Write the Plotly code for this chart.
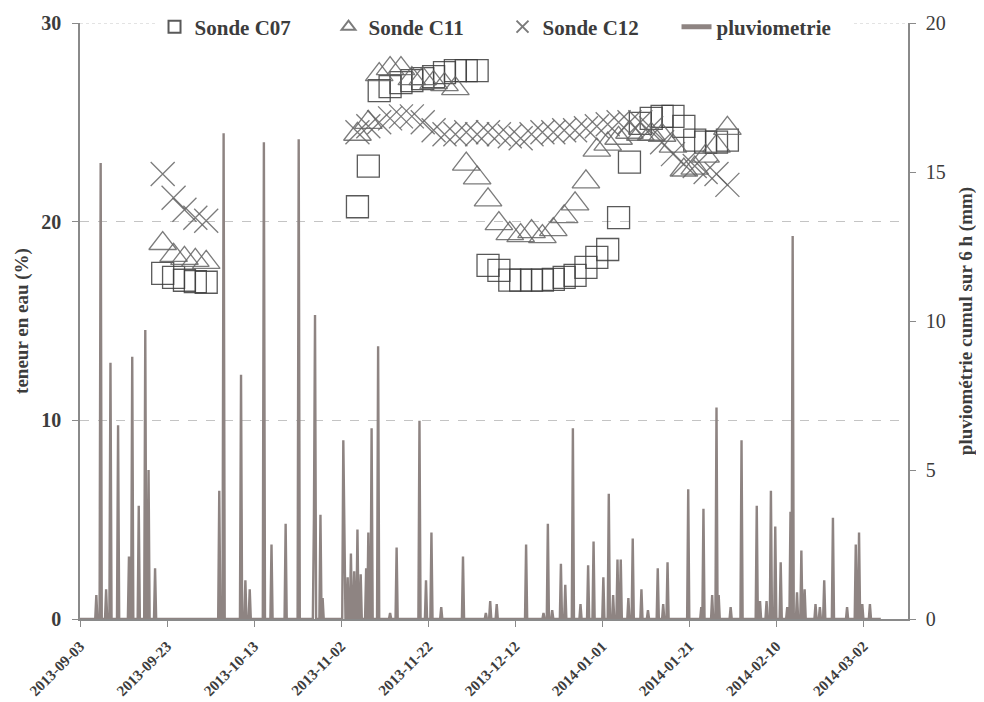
import pandas as pd
import plotly.graph_objects as go

# ---------------- data ----------------
# probe measurement schedule (every 60 h)
probe_dates_sep = pd.date_range('2013-09-22 00:00', periods=5, freq='60h')
probe_dates_nov = pd.date_range('2013-11-05 18:00', periods=35, freq='60h')

c07_sep = [17.4, 17.2, 17.05, 16.98, 16.95]
c11_sep = [18.9, 18.3, 18.15, 18.05, 17.95]
c12_sep = [22.4, 21.2, 20.6, 20.2, 20.05]

c07_nov = [20.75, 22.8, 26.6, 26.8, 27.0, 27.1, 27.2, 27.3, 27.5, 27.6, 27.6, 27.6,
           17.8, 17.55, 17.06, 17.06, 17.06, 17.06, 17.1, 17.2, 17.3, 17.7, 18.2, 18.6,
           20.2, 23.0, 24.95, 25.2, 25.3, 25.3, 24.8, 24.1, 24.0, 24.0, 24.1]
c11_nov = [24.4, 25.0, 27.4, 27.7, 27.7, 27.2, 27.2, 27.0, 26.9, 26.7, 22.9, 22.2,
           21.1, 19.9, 19.4, 19.3, 19.5, 19.25, 19.6, 20.25, 20.9, 22.0, 23.6, 23.9,
           24.2, 24.5, 24.4, 24.4, 24.35, 23.8, 22.6, 22.7, 23.3, 23.8, 24.7]
c12_nov = [24.5, 24.8, 25.0, 25.2, 25.3, 25.3, 25.0, 24.6, 24.4, 24.4, 24.5, 24.4,
           24.5, 24.4, 24.3, 24.2, 24.4, 24.5, 24.5, 24.6, 24.6, 24.7, 24.8, 24.9,
           25.0, 25.0, 25.0, 24.7, 24.0, 23.4, 22.9, 22.8, 22.5, 22.4, 21.85]

rain_times = [
    '2013-09-06 18:00', '2013-09-07 18:00', '2013-09-09 00:00', '2013-09-10 00:00',
    '2013-09-11 18:00', '2013-09-14 06:00', '2013-09-15 00:00', '2013-09-16 12:00',
    '2013-09-18 00:00', '2013-09-18 18:00', '2013-09-20 06:00', '2013-10-05 00:00',
    '2013-10-06 00:00', '2013-10-10 00:00', '2013-10-11 00:00', '2013-10-12 00:00',
    '2013-10-15 06:00', '2013-10-17 00:00', '2013-10-20 06:00', '2013-10-23 06:00',
    '2013-10-26 18:00', '2013-10-27 00:00', '2013-10-28 06:00', '2013-10-28 18:00',
    '2013-11-02 12:00', '2013-11-02 18:00', '2013-11-03 12:00', '2013-11-04 06:00',
    '2013-11-05 00:00', '2013-11-05 18:00', '2013-11-06 12:00', '2013-11-07 18:00',
    '2013-11-08 06:00', '2013-11-09 00:00', '2013-11-10 12:00', '2013-11-13 06:00',
    '2013-11-14 18:00', '2013-11-20 00:00', '2013-11-21 12:00', '2013-11-22 18:00',
    '2013-11-25 00:00', '2013-11-30 00:00', '2013-12-05 06:00', '2013-12-06 06:00',
    '2013-12-07 18:00', '2013-12-14 12:00', '2013-12-18 12:00', '2013-12-19 12:00',
    '2013-12-20 12:00', '2013-12-22 12:00', '2013-12-23 12:00', '2013-12-25 06:00',
    '2013-12-27 00:00', '2013-12-28 18:00', '2013-12-30 00:00', '2014-01-01 06:00',
    '2014-01-02 12:00', '2014-01-03 12:00', '2014-01-04 12:00', '2014-01-05 06:00',
    '2014-01-07 00:00', '2014-01-08 00:00', '2014-01-10 00:00', '2014-01-11 12:00',
    '2014-01-13 18:00', '2014-01-15 00:00', '2014-01-16 00:00', '2014-01-20 18:00',
    '2014-01-23 18:00', '2014-01-24 06:00', '2014-01-26 06:00', '2014-01-27 06:00',
    '2014-01-27 18:00', '2014-01-30 12:00', '2014-02-02 00:00', '2014-02-05 12:00',
    '2014-02-06 06:00', '2014-02-07 18:00', '2014-02-08 18:00', '2014-02-09 18:00',
    '2014-02-11 00:00', '2014-02-12 12:00', '2014-02-13 06:00', '2014-02-13 18:00',
    '2014-02-14 18:00', '2014-02-15 18:00', '2014-02-16 12:00', '2014-02-19 00:00',
    '2014-02-20 00:00', '2014-02-21 00:00', '2014-02-23 00:00', '2014-02-26 06:00',
    '2014-02-28 06:00', '2014-03-01 00:00', '2014-03-01 18:00', '2014-03-03 12:00',
]
rain_values = [
    0.8, 15.3, 1.0, 8.6,
    6.5, 2.1, 8.8, 3.8,
    9.7, 5.0, 1.7, 4.3,
    16.3, 8.2, 1.3, 1.0,
    16.0, 2.5, 3.2, 16.1,
    3.4, 10.2, 3.5, 0.7,
    6.0, 1.7, 1.4, 2.2,
    1.6, 3.0, 1.5, 1.7,
    2.9, 6.4, 9.15, 0.2,
    2.4, 6.65, 1.3, 2.9,
    0.4, 2.1, 0.2, 0.6,
    0.5, 2.5, 0.2, 3.2,
    0.3, 1.85, 1.15, 6.4,
    0.5, 1.8, 2.6, 1.4,
    4.2, 0.8, 2.0, 2.0,
    0.7, 2.7, 1.0, 0.3,
    1.7, 0.5, 1.9, 4.35,
    0.4, 3.7, 0.8, 7.1,
    0.8, 0.4, 6.0, 3.8,
    0.6, 0.6, 4.3, 3.1,
    1.9, 0.4, 3.6, 12.85,
    0.9, 2.3, 1.0, 0.5,
    0.4, 1.3, 3.4, 0.4,
    2.5, 2.9, 0.5, 0.5,
]

x_tick_dates = ['2013-09-03', '2013-09-23', '2013-10-13', '2013-11-02', '2013-11-22',
                '2013-12-12', '2014-01-01', '2014-01-21', '2014-02-10', '2014-03-02']
left_ticks = [0, 10, 20, 30]
right_ticks = [0, 5, 10, 15, 20]

# ---------------- build series ----------------
probe_dates = list(probe_dates_sep) + list(probe_dates_nov)
c07 = c07_sep + c07_nov
c11 = c11_sep + c11_nov
c12 = c12_sep + c12_nov

grid = pd.date_range('2013-09-03 00:00', '2014-03-06 00:00', freq='6h')
rain = pd.Series(0.0, index=grid)
rain.loc[pd.to_datetime(rain_times)] = rain_values

FONT = 'Liberation Serif'
TXT = '#3c3c3c'
AX = '#8a8a8a'
W, H = 976, 694  # page body has an 8 px margin

fig = go.Figure()
fig.add_trace(go.Scatter(
    x=probe_dates, y=c07, mode='markers', name='Sonde C07',
    marker=dict(symbol='square-open', size=22, color='rgba(60,60,60,0.85)',
                line=dict(width=1.3, color='rgba(60,60,60,0.85)')),
    yaxis='y'))
fig.add_trace(go.Scatter(
    x=probe_dates, y=c11, mode='markers', name='Sonde C11',
    marker=dict(symbol='triangle-up-open', size=24, color='rgba(100,100,100,0.85)',
                line=dict(width=1.3, color='rgba(100,100,100,0.85)')),
    yaxis='y'))
fig.add_trace(go.Scatter(
    x=probe_dates, y=c12, mode='markers', name='Sonde C12',
    marker=dict(symbol='x-thin-open', size=24, color='rgba(100,100,100,0.85)',
                line=dict(width=1.3, color='rgba(100,100,100,0.85)')),
    yaxis='y'))
fig.add_trace(go.Scatter(
    x=rain.index, y=rain.values, mode='lines', name='pluviometrie',
    line=dict(color='#8e8482', width=2.4),
    yaxis='y2'))

# top gridline (value 30) drawn dotted like the reference
fig.add_shape(type='line', xref='paper', x0=0, x1=1, yref='y', y0=left_ticks[-1], y1=left_ticks[-1],
              line=dict(color='#c8c8c8', width=1, dash='dot'), layer='below')

fig.update_layout(
    template='none',
    width=W, height=H,
    margin=dict(l=72, r=76, t=15, b=83, autoexpand=False),
    paper_bgcolor='white', plot_bgcolor='white',
    font=dict(family=FONT, color=TXT),
    showlegend=True,
    legend=dict(orientation='h', x=0.09, xanchor='left',
                yref='container', y=1 - 19 / H, yanchor='middle',
                bgcolor='white', font=dict(family=FONT, size=21, color=TXT, weight='bold'),
                itemsizing='constant', itemwidth=30, entrywidthmode='pixels', entrywidth=129,
                borderwidth=0),
    xaxis=dict(
        type='date', range=['2013-09-03', '2014-03-12 06:00'], automargin=False,
        tickmode='array', tickvals=x_tick_dates, ticktext=x_tick_dates,
        tickangle=-45, ticks='outside', ticklen=6, tickcolor=AX, ticklabelstandoff=5,
        showline=True, linecolor=AX, linewidth=1.5, showgrid=False, zeroline=False,
        tickfont=dict(family=FONT, size=15, color=TXT, weight='bold')),
    yaxis=dict(
        range=[0, 30], tickmode='array', tickvals=left_ticks, automargin=False,
        ticks='outside', ticklen=6, tickcolor=AX, ticklabelstandoff=7,
        showline=True, linecolor=AX, linewidth=1.5,
        showgrid=True, gridcolor='#c4c4c4', griddash='dash', gridwidth=1, zeroline=False,
        tickfont=dict(family=FONT, size=20, color=TXT, weight='bold'),
        title=dict(text='teneur en eau (%)', standoff=8,
                   font=dict(family=FONT, size=19, color=TXT, weight='bold'))),
    yaxis2=dict(
        range=[0, 20], tickmode='array', tickvals=right_ticks, automargin=False,
        overlaying='y', side='right',
        ticks='outside', ticklen=6, tickcolor=AX, ticklabelstandoff=6,
        showline=True, linecolor=AX, linewidth=1.5, showgrid=False, zeroline=False,
        tickfont=dict(family=FONT, size=20, color=TXT),
        title=dict(text='pluviométrie cumul sur 6 h (mm)', standoff=14,
                   font=dict(family=FONT, size=19, color=TXT, weight='bold'))),
)

fig.write_html('out.html')
